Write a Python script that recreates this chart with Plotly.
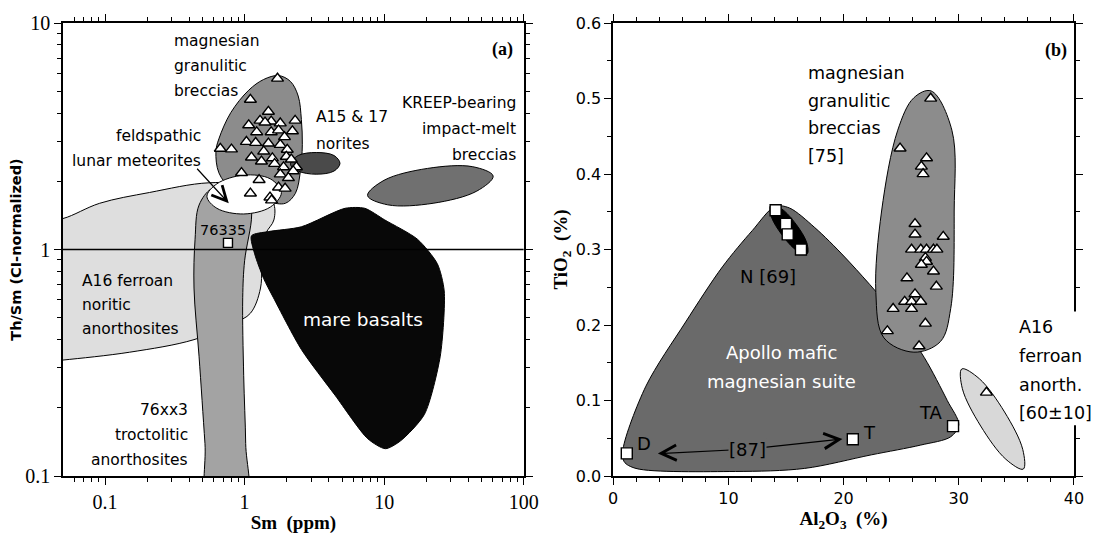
import math
import plotly.graph_objects as go

# ---------------- panel (a): Th/Sm (CI-normalized) vs Sm (ppm) ----------------
# magnesian granulitic breccias
MGB_SM = [1.72, 1.10, 1.48, 2.30, 1.29, 1.55, 1.80, 1.07, 1.40, 2.20,
          1.22, 1.55, 1.75, 1.93, 1.03, 1.20, 1.48, 1.80, 0.67, 0.805,
          1.37, 2.02, 1.12, 1.58, 1.99, 1.32, 1.64, 2.16, 1.90, 2.35,
          2.23, 0.95, 1.80, 2.06, 1.27, 1.75, 1.95, 1.10, 1.52, 1.56]
MGB_THSM = [5.69, 4.59, 4.06, 3.71, 3.71, 3.68, 3.61, 3.54, 3.64, 3.33,
            3.30, 3.30, 3.36, 3.14, 2.99, 2.96, 2.94, 2.90, 2.79, 2.77,
            2.71, 2.76, 2.55, 2.53, 2.57, 2.45, 2.39, 2.50, 2.31, 2.31,
            2.22, 2.18, 2.15, 2.07, 2.03, 1.88, 1.86, 1.77, 1.70, 1.65]
# sample 76335
S76335_SM = [0.76]
S76335_THSM = [1.07]
CHONDRITIC_RATIO = 1.0

# compositional fields: outline vertices as (Sm ppm, Th/Sm)
FIELD_A16_FNA = [(0.034, 1.33), (0.05, 1.37), (0.0916, 1.60), (0.208, 1.785),
                 (0.555, 1.97), (1.20, 1.90), (1.60, 1.62), (1.62, 1.35),
                 (1.42, 1.18), (1.33, 1.0), (1.30, 0.676), (1.10, 0.523),
                 (0.836, 0.473), (0.434, 0.40), (0.15, 0.352), (0.05, 0.325),
                 (0.034, 0.318)]
FIELD_76XX3 = [(0.583, 1.86), (0.4715, 1.57), (0.4416, 1.11), (0.434, 0.676),
               (0.4715, 0.338), (0.52, 0.139), (0.555, 0.0766), (1.018, 0.0766),
               (1.018, 0.139), (0.985, 0.277), (0.969, 0.612), (1.0, 0.892),
               (1.123, 1.42), (1.07, 1.73), (0.796, 1.91)]
FIELD_FLM = [(0.537, 1.716), (0.633, 1.95), (0.985, 2.13), (1.53, 2.05),
             (1.835, 1.785), (1.53, 1.54), (0.985, 1.435), (0.633, 1.52)]
FIELD_MGB_A = [(1.75, 5.86), (2.13, 5.52), (2.42, 4.76), (2.55, 3.75),
               (2.59, 2.90), (2.51, 2.22), (2.31, 1.77), (1.96, 1.60),
               (1.48, 1.62), (1.07, 1.70), (0.796, 1.86), (0.654, 2.18),
               (0.623, 2.71), (0.654, 3.08), (0.796, 4.02), (1.07, 5.05),
               (1.367, 5.63)]
FIELD_NORITES = [(2.13, 2.38), (2.42, 2.60), (3.26, 2.68), (4.37, 2.60),
                 (4.82, 2.40), (4.37, 2.22), (3.26, 2.15), (2.42, 2.22)]
FIELD_KREEP = [(60.3, 2.11), (46.0, 1.81), (22.4, 1.60), (10.6, 1.575),
               (7.60, 1.73), (9.96, 2.02), (20.4, 2.28), (43.1, 2.32)]
FIELD_MARE = [(1.12, 1.15), (1.18, 0.957), (1.367, 0.746), (1.61, 0.612),
              (2.55, 0.362), (4.44, 0.2275), (7.63, 0.146), (10.2, 0.132),
              (13.1, 0.143), (19.4, 0.187), (25.2, 0.338), (26.9, 0.656),
              (24.0, 0.866), (17.3, 1.11), (10.1, 1.35), (7.26, 1.52),
              (5.24, 1.52), (2.55, 1.26), (1.48, 1.20)]

# ---------------- panel (b): TiO2 (%) vs Al2O3 (%) ----------------
MGB_AL2O3 = [27.56, 24.9, 27.2, 26.75, 26.9, 26.2, 26.2, 28.65, 25.9, 26.7,
             27.2, 27.8, 28.1, 27.1, 27.2, 26.75, 27.8, 25.5, 28.05, 26.2,
             25.3, 25.9, 26.7, 25.9, 24.3, 27.1, 23.8, 26.55]
MGB_TIO2 = [0.500, 0.434, 0.421, 0.410, 0.400, 0.334, 0.320, 0.317, 0.300, 0.300,
            0.300, 0.300, 0.300, 0.289, 0.284, 0.280, 0.271, 0.262, 0.251, 0.241,
            0.231, 0.231, 0.231, 0.2215, 0.2215, 0.202, 0.192, 0.172]
FAN_AL2O3 = [32.4]
FAN_TIO2 = [0.1106]
NORITE_AL2O3 = [14.1, 15.0, 15.15, 16.3]
NORITE_TIO2 = [0.352, 0.334, 0.320, 0.300]
MEAN_LABELS = ["D", "T", "TA"]
MEAN_AL2O3 = [1.18, 20.8, 29.5]
MEAN_TIO2 = [0.030, 0.0486, 0.066]

FIELD_AMMS = [(14.05, 0.357), (12.07, 0.325), (9.48, 0.277), (6.29, 0.204),
              (2.84, 0.119), (0.86, 0.036), (0.95, 0.019), (1.98, 0.010),
              (10.6, 0.006), (16.6, 0.010), (22.4, 0.028), (26.7, 0.041),
              (29.3, 0.052), (30.0, 0.068), (29.0, 0.10), (27.0, 0.157),
              (24.4, 0.215), (20.1, 0.29), (17.5, 0.329), (15.3, 0.355)]
FIELD_N = [(16.84, 0.2943), (16.81, 0.3086), (15.88, 0.3333), (14.59, 0.3541),
           (13.68, 0.3586), (13.71, 0.3443), (14.64, 0.3196), (15.93, 0.2988)]
FIELD_MGB_B = [(27.6, 0.510), (29.4, 0.458), (29.6, 0.351), (29.3, 0.222),
               (28.4, 0.178), (26.1, 0.164), (23.5, 0.183), (22.8, 0.243),
               (23.3, 0.351), (24.7, 0.458), (26.1, 0.501)]
FIELD_FAN = [(35.6, 0.00916), (35.55, 0.0352), (33.97, 0.0848), (31.78, 0.1289),
             (30.26, 0.1418), (30.31, 0.1157), (31.9, 0.0662), (34.09, 0.0221)]

# ---------------- styling ----------------
LABEL_FONT = "DejaVu Sans"
SERIF = "Liberation Serif"
C_A16 = "#dedede"
C_76 = "#a3a3a3"
C_MGB = "#8c8c8c"
C_NOR = "#4a4a4a"
C_KREEP = "#707070"
C_MARE = "#080808"
C_AMMS = "#6a6a6a"
C_FAN = "#d8d8d8"

fig = go.Figure()


def field(pts, fill, xa="x", ya="y", width=1.0, smoothing=1.0, line_color="black"):
    xs = [p[0] for p in pts] + [pts[0][0]]
    ys = [p[1] for p in pts] + [pts[0][1]]
    fig.add_trace(go.Scatter(
        x=xs, y=ys, mode="lines", fill="toself", fillcolor=fill,
        line=dict(color=line_color, width=width, shape="spline", smoothing=smoothing),
        xaxis=xa, yaxis=ya, hoverinfo="skip", showlegend=False))


def markers(xs, ys, symbol, size, xa="x", ya="y"):
    fig.add_trace(go.Scatter(
        x=xs, y=ys, mode="markers",
        marker=dict(symbol=symbol, size=size, color="white",
                    line=dict(color="black", width=1.4)),
        xaxis=xa, yaxis=ya, hoverinfo="skip", showlegend=False))


# panel (a) fields, back to front
field(FIELD_A16_FNA, C_A16)
field(FIELD_76XX3, C_76)
field(FIELD_MGB_A, C_MGB)
field(FIELD_FLM, "white")
field(FIELD_NORITES, C_NOR)
field(FIELD_KREEP, C_KREEP)
field(FIELD_MARE, C_MARE, smoothing=0.7)

# chondritic Th/Sm reference line
fig.add_trace(go.Scatter(x=[0.05, 100], y=[CHONDRITIC_RATIO, CHONDRITIC_RATIO],
                         mode="lines", line=dict(color="black", width=1.5),
                         hoverinfo="skip", showlegend=False))
markers(MGB_SM, MGB_THSM, "triangle-up", 10.5)
markers(S76335_SM, S76335_THSM, "square", 9)

# panel (b) fields
field(FIELD_AMMS, C_AMMS, "x2", "y2", smoothing=0.9)
field(FIELD_N, "black", "x2", "y2")
field(FIELD_MGB_B, C_MGB, "x2", "y2")
field(FIELD_FAN, C_FAN, "x2", "y2")
markers(MGB_AL2O3, MGB_TIO2, "triangle-up", 10.5, "x2", "y2")
markers(FAN_AL2O3, FAN_TIO2, "triangle-up", 10.5, "x2", "y2")
markers(NORITE_AL2O3, NORITE_TIO2, "square", 11, "x2", "y2")
markers(MEAN_AL2O3, MEAN_TIO2, "square", 11, "x2", "y2")

annotations = []


def text_block(lines, x, y, xref, yref, anchor, spacing, size, color="black",
               family=LABEL_FONT, log=False, bgcolor=None):
    xv = math.log10(x) if log else x
    yv = math.log10(y) if log else y
    for i, line in enumerate(lines):
        a = dict(x=xv, y=yv, xref=xref, yref=yref, text=line, showarrow=False,
                 xanchor=anchor, yanchor="middle", yshift=-i * spacing,
                 font=dict(family=family, size=size, color=color), borderpad=0)
        if bgcolor:
            a["bgcolor"] = bgcolor
        annotations.append(a)


# panel (a) labels
text_block(["magnesian", "granulitic", "breccias"], 0.308, 8.37, "x", "y", "left", 25, 15.5, log=True)
text_block(["feldspathic", "lunar meteorites"], 0.495, 3.17, "x", "y", "right", 25, 15.5, log=True)
text_block(["A15 &amp; 17", "norites"], 3.20, 3.83, "x", "y", "left", 27, 15.5, log=True)
text_block(["KREEP-bearing", "impact-melt", "breccias"], 89.0, 4.44, "x", "y", "right", 26, 15.5, log=True)
text_block(["76335"], 0.698, 1.225, "x", "y", "center", 0, 14.5, log=True)
text_block(["A16 ferroan", "noritic", "anorthosites"], 0.0671, 0.725, "x", "y", "left", 24, 15.5, log=True)
text_block(["76xx3", "troctolitic", "anorthosites"], 0.40, 0.196, "x", "y", "right", 25, 15.5, log=True)
text_block(["mare basalts"], 7.03, 0.4925, "x", "y", "center", 0, 18.5, color="white", log=True)
text_block(["<b>(a)</b>"], 70.7, 7.66, "x", "y", "center", 0, 18, family=SERIF, log=True)
# arrow towards the feldspathic lunar meteorite field
annotations.append(dict(x=math.log10(0.77), y=math.log10(1.60), xref="x", yref="y",
                        ax=-33, ay=-36, showarrow=True, arrowhead=5, arrowsize=2.4,
                        arrowwidth=1.2, arrowcolor="black", text=""))

# panel (b) labels
text_block(["magnesian", "granulitic", "breccias", "[75]"], 16.8, 0.534, "x2", "y2", "left", 27.7, 17.5)
text_block(["<b>(b)</b>"], 38.45, 0.564, "x2", "y2", "center", 0, 18, family=SERIF)
text_block(["N [69]"], 13.45, 0.2645, "x2", "y2", "center", 0, 18)
text_block(["Apollo mafic", "magnesian suite"], 14.6, 0.164, "x2", "y2", "center", 29, 18, color="white")
text_block(["A16", "ferroan", "anorth.", "[60±10]"], 35.17, 0.197, "x2", "y2", "left", 28.7, 17.5)
for lab, xa_, ya_, dx, dy in zip(MEAN_LABELS, MEAN_AL2O3, MEAN_TIO2, [17, 17, -22], [10, 7, 14]):
    annotations.append(dict(x=xa_, y=ya_, xref="x2", yref="y2", text=lab, showarrow=False,
                            xshift=dx, yshift=dy, font=dict(family=LABEL_FONT, size=18, color="black")))
# [87] double arrow between D and T
for hx, hy in [(3.88, 0.0297), (19.9, 0.049)]:
    annotations.append(dict(x=hx, y=hy, xref="x2", yref="y2", ax=11.64, ay=0.0355,
                            axref="x2", ayref="y2", showarrow=True, arrowhead=5,
                            arrowsize=2.5, arrowwidth=1.2, arrowcolor="black", text=""))
text_block(["[87]"], 11.64, 0.0355, "x2", "y2", "center", 0, 18, bgcolor=C_AMMS)

MINOR_LOG = [round(m * d, 4) for d in (0.01, 0.1, 1, 10) for m in range(2, 10)]

axis_common = dict(showline=True, linecolor="black", linewidth=1.5, mirror="ticks",
                   ticks="outside", ticklen=7, tickwidth=1.2, tickcolor="black",
                   showgrid=False, zeroline=False)

fig.update_layout(
    width=1101, height=542,
    margin=dict(l=63, r=20, t=19, b=58),
    paper_bgcolor="white", plot_bgcolor="white",
    showlegend=False,
    annotations=annotations,
    xaxis=dict(axis_common, type="log", domain=[0, 0.4558], anchor="y",
               range=[math.log10(0.05), 2],
               tickvals=[0.1, 1, 10, 100], ticktext=["0.1", "1", "10", "100"],
               minor=dict(tickvals=[v for v in MINOR_LOG if 0.05 < v < 100],
                          ticks="outside", ticklen=4, tickwidth=1.1, tickcolor="black"),
               tickfont=dict(family=SERIF, size=20, color="black"),
               title=dict(text="<b>Sm  (ppm)</b>", standoff=4,
                          font=dict(family=SERIF, size=19, color="black"))),
    yaxis=dict(axis_common, type="log", domain=[0, 1], anchor="x",
               range=[-1, 1],
               tickvals=[0.1, 1, 10], ticktext=["0.1", "1", "10"],
               minor=dict(tickvals=[v for v in MINOR_LOG if 0.1 < v < 10],
                          ticks="outside", ticklen=4, tickwidth=1.1, tickcolor="black"),
               tickfont=dict(family=SERIF, size=20, color="black"),
               title=dict(text="<b>Th/Sm (CI-normalized)</b>", standoff=0,
                          font=dict(family="DejaVu Sans", size=14.5, color="black"))),
    xaxis2=dict(axis_common, domain=[0.5442, 1], anchor="y2",
                range=[0, 40], tickvals=[0, 10, 20, 30, 40],
                minor=dict(dtick=2, ticks="outside", ticklen=4, tickwidth=1.1, tickcolor="black"),
                tickfont=dict(family=LABEL_FONT, size=16, color="black"),
                title=dict(text="<b>Al<sub>2</sub>O<sub>3</sub>  (%)</b>", standoff=4,
                           font=dict(family=SERIF, size=19, color="black"))),
    yaxis2=dict(axis_common, domain=[0, 1], anchor="x2",
                range=[0, 0.6], tickvals=[0, 0.1, 0.2, 0.3, 0.4, 0.5, 0.6],
                ticktext=["0.0", "0.1", "0.2", "0.3", "0.4", "0.5", "0.6"],
                minor=dict(dtick=0.05, ticks="outside", ticklen=4, tickwidth=1.1, tickcolor="black"),
                tickfont=dict(family=LABEL_FONT, size=16, color="black"),
                title=dict(text="<b>TiO<sub>2</sub>  (%)</b>", standoff=3,
                           font=dict(family=SERIF, size=19, color="black"))),
    shapes=[
        # gap in the right-hand frame behind the A16 label
        dict(type="rect", xref="paper", yref="paper", x0=0.994, x1=1.014,
             y0=0.112, y1=0.363, fillcolor="white", line=dict(width=0), layer="above"),
    ],
)

fig.write_html("out.html")
